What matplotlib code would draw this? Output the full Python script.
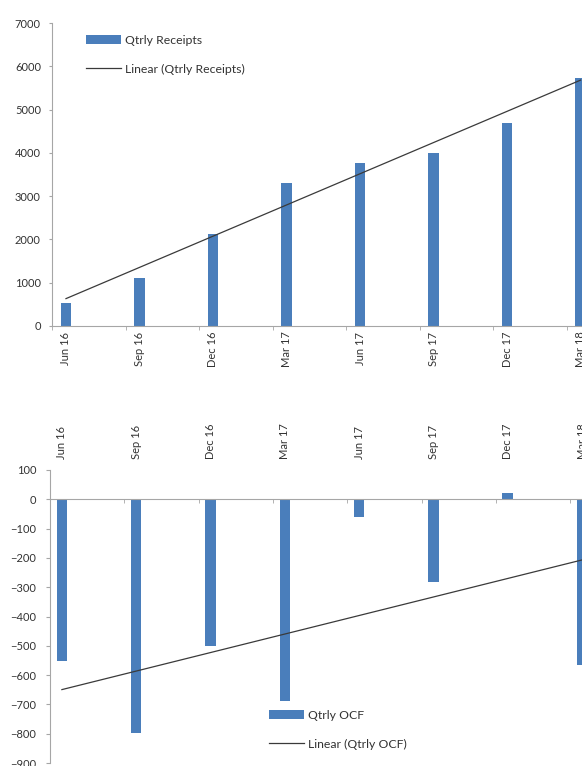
import numpy as np
from matplotlib import pyplot as plt

quarters = ['Jun 16', 'Sep 16', 'Dec 16', 'Mar 17', 'Jun 17', 'Sep 17', 'Dec 17', 'Mar 18']
receipts = [520, 1100, 2130, 3300, 3770, 4000, 4690, 5740]
ocf = [-553, -797, -502, -690, -60, -283, 23, -564]

plt.rcParams['font.family'] = ['Lato', 'DejaVu Sans']

bar_color = '#4A7EBB'
axis_color = '#A6A6A6'
text_color = '#333333'

x = np.arange(len(quarters))

fig = plt.figure(figsize=(5.82, 7.66), dpi=100)

# top chart - receipts
ax1 = fig.add_axes([52/582, 1 - 326/766, 530/582, 303/766])
bars1 = ax1.bar(x, receipts, width=0.14, color=bar_color, label='Qtrly Receipts', zorder=2)
k, b = np.polyfit(x, receipts, 1)
line1, = ax1.plot([x[0], x[-1]], [k*x[0] + b, k*x[-1] + b], color='#3a3a3a', lw=0.9,
                  label='Linear (Qtrly Receipts)', zorder=3)
ax1.set_xlim(-0.19, 7.02)
ax1.set_ylim(0, 7000)
ax1.set_yticks(range(0, 7001, 1000))
ax1.set_xticks(x)
ax1.set_xticklabels(quarters)
ax1.set_xticks(x - 0.19, minor=True)
ax1.tick_params(axis='x', which='major', length=0, pad=4, labelsize=8,
                labelcolor=text_color, labelrotation=90)
ax1.tick_params(axis='x', which='minor', length=3, color=axis_color)
ax1.tick_params(axis='y', length=2, pad=6, labelsize=8, labelcolor=text_color, color=axis_color)
for s in ['top', 'right']:
    ax1.spines[s].set_visible(False)
for s in ['left', 'bottom']:
    ax1.spines[s].set_color(axis_color)
ax1.legend([bars1, line1], ['Qtrly Receipts', 'Linear (Qtrly Receipts)'],
           loc='upper left', bbox_to_anchor=(86/582, 1 - 35/766), bbox_transform=fig.transFigure,
           frameon=False, fontsize=8.8, handlelength=2.9, handletextpad=0.3,
           labelspacing=1.45, borderpad=0, borderaxespad=0, labelcolor=text_color)

# bottom chart - operating cash flow
ax2 = fig.add_axes([50/582, 1 - 763/766, 532/582, 293/766])
bars2 = ax2.bar(x, ocf, width=0.14, color=bar_color, label='Qtrly OCF', zorder=2)
k2, b2 = np.polyfit(x, ocf, 1)
line2, = ax2.plot([x[0], 7.2], [k2*x[0] + b2, k2*7.2 + b2], color='#3a3a3a', lw=0.9,
                  label='Linear (Qtrly OCF)', zorder=3)
ax2.set_xlim(-0.16, 6.99)
ax2.set_ylim(-900, 100)
ax2.set_yticks(range(-900, 101, 100))
ax2.set_xticks(x)
ax2.set_xticklabels(quarters)
ax2.set_xticks(x - 0.16, minor=True)
ax2.xaxis.set_ticks_position('both')
ax2.tick_params(axis='x', which='major', top=True, bottom=False, labeltop=True,
                labelbottom=False, length=0, pad=8, labelsize=8,
                labelcolor=text_color, labelrotation=90)
ax2.tick_params(axis='x', which='minor', top=False, bottom=True, length=3, color=axis_color)
ax2.tick_params(axis='y', length=3, pad=7, labelsize=8, labelcolor=text_color, color=axis_color)
ax2.spines['bottom'].set_position(('data', 0))
ax2.spines['bottom'].set_color(axis_color)
ax2.spines['left'].set_color(axis_color)
for s in ['top', 'right']:
    ax2.spines[s].set_visible(False)
ax2.legend([bars2, line2], ['Qtrly OCF', 'Linear (Qtrly OCF)'],
           loc='upper left', bbox_to_anchor=(269/582, 1 - 710/766), bbox_transform=fig.transFigure,
           frameon=False, fontsize=8.8, handlelength=2.9, handletextpad=0.3,
           labelspacing=1.45, borderpad=0, borderaxespad=0, labelcolor=text_color)

fig.savefig('out.png', dpi=100)
